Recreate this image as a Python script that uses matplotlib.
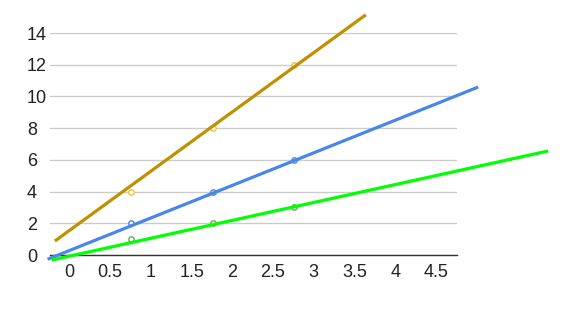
import matplotlib
matplotlib.use("Agg")
import matplotlib.pyplot as plt

plt.rcParams['font.family'] = ['Liberation Sans', 'DejaVu Sans']

# points
point_x = [1, 2, 3]
gold_y = [4, 8, 12]
blue_y = [2, 4, 6]
green_y = [1, 2, 3]

# trend lines (end points, they run past the plot area)
gold_line_x = [0.06, 3.88]
gold_line_y = [0.88, 15.15]
blue_line_x = [-0.03, 5.26]
blue_line_y = [-0.27, 10.59]
green_line_x = [0.02, 6.12]
green_line_y = [-0.32, 6.56]

x_ticks = [0, 0.5, 1, 1.5, 2, 2.5, 3, 3.5, 4, 4.5]
y_ticks = [0, 2, 4, 6, 8, 10, 12, 14]
label_shift = 0.24  # the x labels sit a bit to the right of their values

fig = plt.figure(figsize=(5.7, 3.09), dpi=100)
ax = fig.add_axes([50 / 570, 54 / 309, 407 / 570, 222 / 309])

# hollow markers
ax.scatter(point_x, gold_y, s=15, facecolors='white', edgecolors='#f1c232', linewidths=1, zorder=3, clip_on=False)
ax.scatter(point_x, blue_y, s=15, facecolors='white', edgecolors='#4a86e8', linewidths=1, zorder=3, clip_on=False)
ax.scatter(point_x, green_y, s=15, facecolors='white', edgecolors='#6aa84f', linewidths=1, zorder=3, clip_on=False)

# trend lines on top
ax.plot(gold_line_x, gold_line_y, color='#bf9000', lw=2.3, solid_capstyle='butt', zorder=4, clip_on=False)
ax.plot(blue_line_x, blue_line_y, color='#4a86e8', lw=2.3, solid_capstyle='butt', zorder=5, clip_on=False)
ax.plot(green_line_x, green_line_y, color='#00ff00', lw=2.3, solid_capstyle='butt', zorder=6, clip_on=False)

ax.set_xlim(0, 5)
ax.set_ylim(0, 14)

ax.set_yticks(y_ticks)
ax.set_yticklabels([str(v) for v in y_ticks], ha='left')
ax.set_xticks([v + label_shift for v in x_ticks])
ax.set_xticklabels([f'{v:g}' for v in x_ticks])
ax.tick_params(axis='y', length=0, pad=16.6, labelsize=13, labelcolor='#222222')
ax.tick_params(axis='x', length=0, pad=6.5, labelsize=13, labelcolor='#222222')

ax.grid(axis='y', color='#cccccc', lw=1)
ax.set_axisbelow(True)
for side in ['top', 'right', 'left']:
    ax.spines[side].set_visible(False)
ax.spines['bottom'].set_color('#333333')
ax.spines['bottom'].set_linewidth(1)

fig.savefig('out.png', dpi=100)
